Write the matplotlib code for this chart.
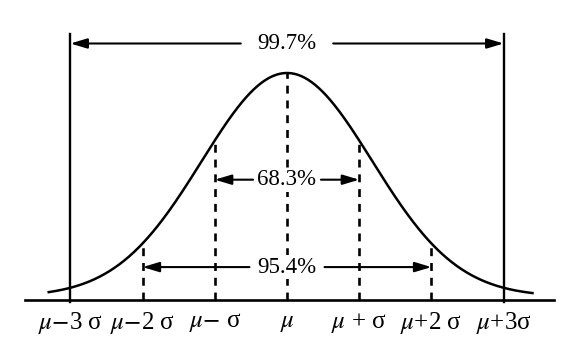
import matplotlib.pyplot as plt
import numpy as np

plt.rcParams['font.family'] = ['Liberation Serif', 'DejaVu Serif']
plt.rcParams['mathtext.fontset'] = 'stix'

# positions in sigma units
marks = [-3, -2, -1, 0, 1, 2, 3]
tick_labels = [r'$\mu$$-$3 σ', r'$\mu$$-$2 σ', r'$\mu$$-$ σ', r'$\mu$',
               r'$\mu$ + σ', r'$\mu$+2 σ', r'$\mu$+3σ']
spans = [1, 2, 3]
span_labels = ['68.3%', '95.4%', '99.7%']
span_y = [0.53, 0.145, 1.13]
span_gap = [0.47, 0.52, 0.64]

curve_w = 1.18  # drawn curve is a bit wider than sigma


def curve(x):
    return np.exp(-x ** 2 / (2 * curve_w ** 2)) * 0.985 + 0.015


fig = plt.figure(figsize=(5.7, 3.53), dpi=100)
ax = fig.add_axes([0, 0, 1, 1])
ax.set_xlim(-287 / 72.2, (570 - 287) / 72.2)
ax.set_ylim(-53 / 227, 300 / 227)
ax.axis('off')

x = np.linspace(-3.3, 3.4, 400)
ax.plot(x, curve(x), color='black', lw=1.8)
ax.plot([-3.63, 3.7], [0, 0], color='black', lw=1.9)

# solid lines at +-3 sigma
for m in [-3, 3]:
    ax.plot([m, m], [-0.01, 1.17], color='black', lw=1.7)

# dashed lines
for m in [-2, -1, 0, 1, 2]:
    ax.plot([m, m], [0, curve(m)], color='black', lw=1.9,
            dashes=(3, 2.6), zorder=1)

# span arrows
for s, lab, y, gap in zip(spans, span_labels, span_y, span_gap):
    ax.text(0, y, lab, ha='center', va='center', fontsize=16.5, zorder=3,
            bbox=dict(facecolor='white', edgecolor='none', pad=1))
    for d in [-1, 1]:
        ax.annotate('', xy=(d * s, y), xytext=(d * gap, y),
                    arrowprops=dict(arrowstyle='-|>,head_length=1.0,head_width=0.3',
                                    color='black', lw=1.5, shrinkA=0, shrinkB=0))

for m, lab in zip(marks, tick_labels):
    ax.text(m, -0.1, lab, ha='center', va='center', fontsize=18)

fig.savefig('out.png', dpi=100)
